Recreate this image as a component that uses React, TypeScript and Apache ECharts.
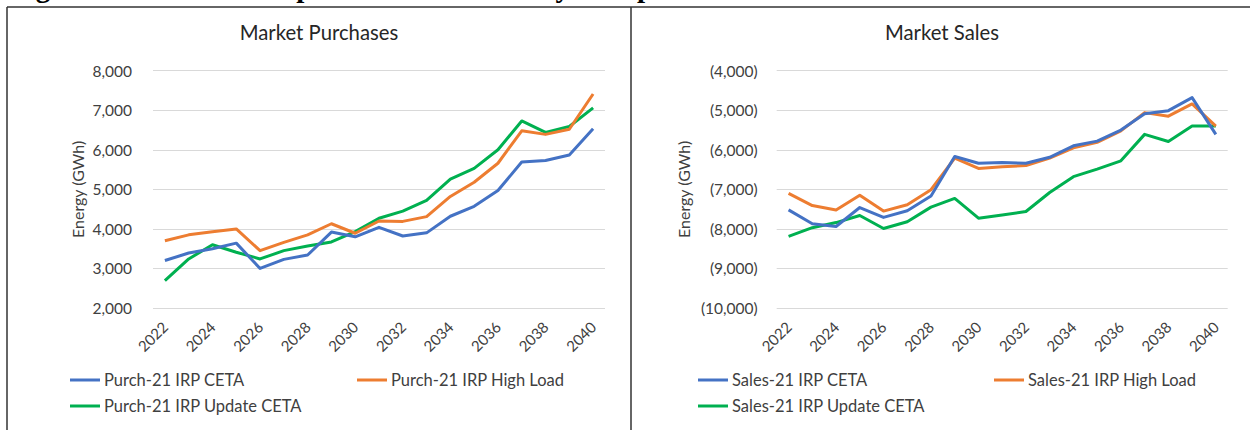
import React, { useEffect, useRef } from "react";
import * as echarts from "echarts";

const years = ["2022","2023","2024","2025","2026","2027","2028","2029","2030","2031","2032","2033","2034","2035","2036","2037","2038","2039","2040"];

const purchCeta = [3200, 3390, 3500, 3640, 3000, 3230, 3340, 3920, 3800, 4040, 3820, 3900, 4320, 4570, 4970, 5690, 5730, 5870, 6530];
const purchHigh = [3700, 3850, 3930, 4000, 3450, 3660, 3850, 4130, 3890, 4200, 4190, 4310, 4820, 5180, 5660, 6480, 6390, 6520, 7410];
const purchUpdate = [2690, 3240, 3600, 3410, 3240, 3450, 3570, 3670, 3930, 4270, 4450, 4720, 5260, 5530, 6000, 6730, 6440, 6590, 7060];

const salesCeta = [-7520, -7870, -7940, -7460, -7710, -7540, -7170, -6170, -6340, -6320, -6340, -6190, -5900, -5780, -5500, -5090, -5010, -4680, -5610];
const salesHigh = [-7100, -7410, -7520, -7150, -7550, -7390, -7010, -6210, -6470, -6430, -6400, -6210, -5950, -5810, -5520, -5060, -5150, -4840, -5400];
const salesUpdate = [-8190, -7970, -7840, -7660, -7990, -7820, -7450, -7230, -7730, -7650, -7560, -7080, -6680, -6490, -6280, -5610, -5790, -5400, -5400];

const purchNames = ["Purch-21 IRP CETA", "Purch-21 IRP High Load", "Purch-21 IRP Update CETA"];
const salesNames = ["Sales-21 IRP CETA", "Sales-21 IRP High Load", "Sales-21 IRP Update CETA"];
const colors = ["#4472C4", "#ED7D31", "#00B050"];

const FONT = "Lato, Carlito, Calibri, sans-serif";
const TXT = "#404040";

const fmt = (v: number) => {
  const s = Math.abs(v).toLocaleString("en-US");
  return v < 0 ? "(" + s + ")" : s;
};

export default function App() {
  const ref = useRef<HTMLDivElement>(null);
  useEffect(() => {
    if (!ref.current) return;
    const chart = echarts.init(ref.current, null, { renderer: "svg" });
    const mkSeries = (names: string[], data: number[][], idx: number) =>
      names.map((n, i) => ({
        name: n,
        type: "line",
        xAxisIndex: idx,
        yAxisIndex: idx,
        data: data[i],
        symbol: "none",
        lineStyle: { width: 3, color: colors[i], join: "round" },
        itemStyle: { color: colors[i] },
        z: 3 - i,
      }));
    const xAxis = (gi: number) => ({
      type: "category",
      gridIndex: gi,
      data: years,
      boundaryGap: true,
      axisLine: { show: false },
      axisTick: { show: false },
      axisLabel: { interval: 1, rotate: 45, fontSize: 15, color: TXT, fontFamily: FONT, margin: 16 },
    });
    const yAxis = (gi: number, min: number, max: number, gap: number, margin: number) => ({
      type: "value",
      gridIndex: gi,
      min,
      max,
      interval: 1000,
      name: "Energy (GWh)",
      nameLocation: "middle",
      nameGap: gap,
      nameTextStyle: { fontSize: 16, color: TXT, fontFamily: FONT },
      axisLine: { show: false },
      axisTick: { show: false },
      splitLine: { lineStyle: { color: "#D9D9D9", width: 1 } },
      axisLabel: { fontSize: 15.5, color: TXT, fontFamily: FONT, margin, formatter: fmt },
    });
    const leg = (name: string, left: number, top: number) => ({
      data: [name],
      left,
      top,
      icon: "rect",
      itemWidth: 30,
      itemHeight: 3,
      itemGap: 0,
      padding: 0,
      textStyle: { fontSize: 16.5, lineHeight: 20, color: TXT, fontFamily: FONT, padding: [0, 0, 0, -1] },
    });
    chart.setOption({
      animation: false,
      backgroundColor: "#ffffff",
      grid: [
        { left: 153, top: 70.7, width: 452, height: 237.3 },
        { left: 776.7, top: 70.7, width: 451, height: 237.3 },
      ],
      xAxis: [xAxis(0), xAxis(1)],
      yAxis: [yAxis(0, 2000, 8000, 68, 21), yAxis(1, -10000, -4000, 85, 19)],
      legend: [
        leg(purchNames[0], 70, 370),
        leg(purchNames[1], 357, 370),
        leg(purchNames[2], 70, 396),
        leg(salesNames[0], 698, 370),
        leg(salesNames[1], 994, 370),
        leg(salesNames[2], 698, 396),
      ],
      series: [
        ...mkSeries(purchNames, [purchCeta, purchHigh, purchUpdate], 0),
        ...mkSeries(salesNames, [salesCeta, salesHigh, salesUpdate], 1),
      ],
      graphic: [
        {
          type: "text",
          x: 10,
          y: 1,
          style: {
            text: "Figure 8-4: 2023 IRP Update Market Activity Comparison to 2021 IRP Studies",
            fontFamily: "Liberation Serif, serif",
            fontWeight: "bold",
            fontSize: 29,
            fill: "#000",
            verticalAlign: "bottom",
          },
          z: 0,
        },
        { type: "line", shape: { x1: 7, y1: 7, x2: 1250, y2: 7 }, style: { stroke: "#333", lineWidth: 1.5 } },
        { type: "line", shape: { x1: 7, y1: 7, x2: 7, y2: 430 }, style: { stroke: "#333", lineWidth: 1.5 } },
        { type: "line", shape: { x1: 631, y1: 7, x2: 631, y2: 430 }, style: { stroke: "#333", lineWidth: 1.5 } },
        {
          type: "text",
          x: 319,
          y: 32,
          style: { text: "Market Purchases", fontSize: 20.3, fontFamily: FONT, fill: "#262626", align: "center", verticalAlign: "middle" },
        },
        {
          type: "text",
          x: 942,
          y: 32,
          style: { text: "Market Sales", fontSize: 20.3, fontFamily: FONT, fill: "#262626", align: "center", verticalAlign: "middle" },
        },
      ],
    });
    return () => chart.dispose();
  }, []);
  return <div ref={ref} style={{ position: "fixed", left: 0, top: 0, width: 1250, height: 430 }} />;
}
